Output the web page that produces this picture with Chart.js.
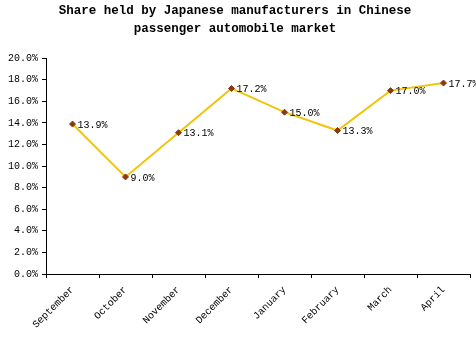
<!DOCTYPE html>
<html>
<head>
<meta charset="utf-8">
<script src="https://cdn.jsdelivr.net/npm/chart.js@4"></script>
<style>
  html, body { margin: 0; padding: 0; background: #fff; }
  #wrap { width: 476px; height: 337px; }
</style>
</head>
<body>
<div id="wrap"><canvas id="shareChart"></canvas></div>
<script>
// Data
const months = ["September", "October", "November", "December", "January", "February", "March", "April"];
const shareValues = [13.9, 9.0, 13.1, 17.2, 15.0, 13.3, 17.0, 17.7];
const titleLines = ["Share held by Japanese manufacturers in Chinese", "passenger automobile market"];

const monoFont = "'Liberation Mono', 'Courier New', monospace";

// write the value next to each point
const pointLabels = {
    id: 'pointLabels',
    afterDatasetsDraw(chart) {
        const ctx = chart.ctx;
        const meta = chart.getDatasetMeta(0);
        ctx.save();
        ctx.font = '10px ' + monoFont;
        ctx.fillStyle = '#000';
        ctx.textAlign = 'left';
        ctx.textBaseline = 'middle';
        meta.data.forEach((pt, i) => {
            ctx.fillText(shareValues[i].toFixed(1) + '%', pt.x + 5, pt.y + 1);
        });
        ctx.restore();
    }
};

const ctx = document.getElementById('shareChart').getContext('2d');
new Chart(ctx, {
    type: 'line',
    data: {
        labels: months,
        datasets: [{
            data: shareValues,
            borderColor: '#F2C40C',
            borderWidth: 2,
            pointStyle: 'rectRot',
            pointRadius: 3,
            pointBackgroundColor: '#8B3A0E',
            pointBorderColor: '#8B3A0E',
            pointBorderWidth: 1,
            tension: 0
        }]
    },
    options: {
        responsive: true,
        maintainAspectRatio: false,
        animation: false,
        layout: { padding: { left: 0, right: 6, top: 0, bottom: 0 } },
        plugins: {
            legend: { display: false },
            tooltip: { enabled: false },
            title: {
                display: true,
                text: titleLines,
                color: '#000',
                font: { family: monoFont, size: 12.5, weight: 'bold', lineHeight: 1.45 },
                padding: { top: 2, bottom: 20 }
            }
        },
        scales: {
            x: {
                offset: true,
                grid: { display: true, offset: true, drawOnChartArea: false, drawTicks: true, tickLength: 4, color: '#000' },
                border: { color: '#000', width: 1 },
                ticks: {
                    color: '#000',
                    font: { family: monoFont, size: 10 },
                    minRotation: 45,
                    maxRotation: 45,
                    padding: 6
                },
                afterFit(axis) { axis.height = 63; }
            },
            y: {
                min: 0,
                max: 20,
                ticks: {
                    stepSize: 2,
                    color: '#000',
                    font: { family: monoFont, size: 10 },
                    padding: 4,
                    callback: v => v.toFixed(1) + '%'
                },
                grid: { display: true, drawOnChartArea: false, drawTicks: true, tickLength: 4, color: '#000' },
                border: { color: '#000', width: 1 },
                afterFit(axis) { axis.width = 46; }
            }
        }
    },
    plugins: [pointLabels]
});
</script>
</body>
</html>
